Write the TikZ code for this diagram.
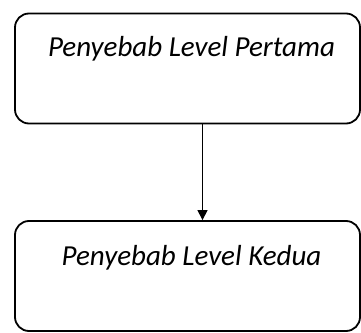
\documentclass[tikz,border=0pt]{standalone}
\usepackage{fontspec}
\setmainfont{Carlito}
\usepackage{tikz}
\usetikzlibrary{arrows.meta,positioning}

\tikzset{
  causebox/.style={draw, line width=1.8pt, rounded corners=14pt, minimum width=345pt, minimum height=110pt, inner sep=0pt},
  causetext/.style={font=\fontsize{29}{34}\selectfont\itshape, inner sep=0pt, anchor=base},
}

\begin{document}
\begin{tikzpicture}[x=1pt,y=1pt]
	\useasboundingbox (0,0) rectangle (361,332);
	% the two levels
	\node[causebox] (first) at (187.5,263.5) {};
	\node[causebox] (second) at (187.5,56) {};
	\node[causetext] (firsttext) at ([xshift=4pt,yshift=-44pt]first.north) {Penyebab Level Pertama};
	\node[causetext] (secondtext) at ([xshift=4pt,yshift=-45pt]second.north) {Penyebab Level Kedua};
	% link
	\draw[-{Triangle[width=10pt,length=10pt]}, line width=1.2pt] ([xshift=15pt]first.south) -- ([xshift=15pt]second.north);
\end{tikzpicture}
\end{document}
